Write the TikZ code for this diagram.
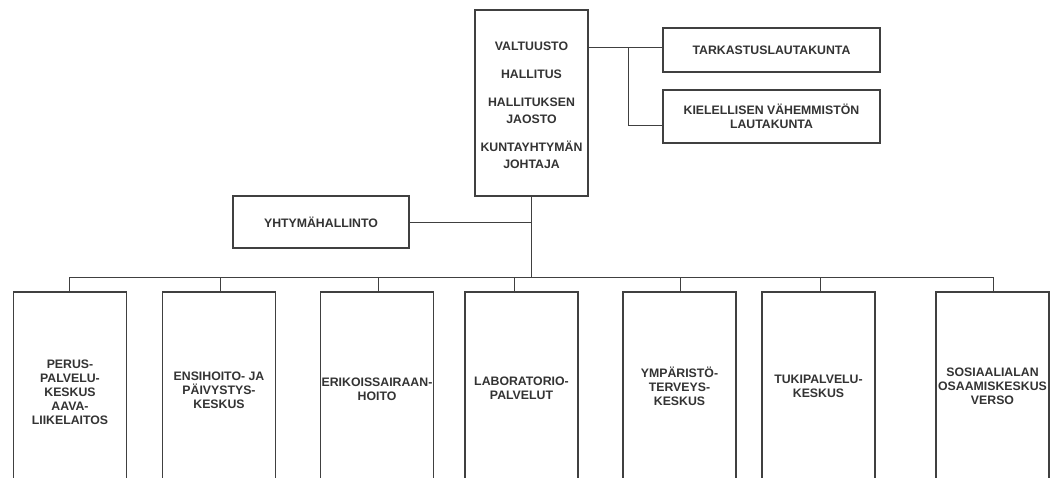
\documentclass[tikz,border=0pt]{standalone}
\usepackage{fontspec}
\setmainfont{Liberation Sans}
\usepackage{xcolor}
\colorlet{colLine}{black!75}
\colorlet{colText}{black!80}
\usetikzlibrary{positioning, calc}
\tikzset{
	orgbox/.style={draw=colLine, line width=1.3pt, inner sep=0pt, align=center,
		text=colText, font=\bfseries\fontsize{12.3}{14}\selectfont},
	unitbox/.style={orgbox, minimum width=113pt, minimum height=192pt},
	conn/.style={draw=colLine, line width=0.9pt},
}

\begin{document}
\begin{tikzpicture}[x=1pt, y=-1pt]
	\useasboundingbox (0,0) rectangle (1050,477);
	\clip (0,0) rectangle (1050,477);

	% top level
	\node[orgbox, minimum width=113pt, minimum height=186pt,
		font=\bfseries\fontsize{12.3}{17}\selectfont] (ylin) at (531.5,103)
		{\raisebox{-3.5pt}[\height][\depth]{\begin{tabular}{@{}c@{}}
			VALTUUSTO\\[11pt]HALLITUS\\[11pt]HALLITUKSEN\\JAOSTO\\[11pt]KUNTAYHTYMÄN\\JOHTAJA
		\end{tabular}}};
	\node[orgbox, minimum width=217pt, minimum height=44pt] (tark) at (771.5,50)
		{TARKASTUSLAUTAKUNTA};
	\node[orgbox, minimum width=217pt, minimum height=53pt] (kieli) at (771.5,116.5)
		{KIELELLISEN VÄHEMMISTÖN\\LAUTAKUNTA};
	\node[orgbox, minimum width=176pt, minimum height=52pt] (yhtyma) at (321,222)
		{YHTYMÄHALLINTO};

	\coordinate (vrow)   at (588,47);
	\coordinate (branch) at (628,47);
	\coordinate (hub)    at (531.5,277);
	\coordinate (busL)   at (69,277);
	\coordinate (busR)   at (993,277);

	\draw[conn] (vrow) -- (tark.west |- vrow);
	\draw[conn] (branch) |- ([yshift=-8.5pt]kieli.west);
	\draw[conn] (ylin.south) -- (hub);
	\draw[conn] (yhtyma.east) -- (yhtyma.east -| ylin.south);
	\draw[conn] (busL) -- (busR);

	% service units, stems hang from the bus
	\foreach \nm/\cx/\cy/\dx/\txt in {%
		perus/70/392/-1/{PERUS-\\PALVELU-\\KESKUS\\AAVA-\\LIIKELAITOS},
		ensi/219/390/1/{ENSIHOITO- JA\\PÄIVYSTYS-\\KESKUS},
		erik/377/389/1/{ERIKOISSAIRAAN-\\HOITO},
		labra/521.5/388/-7.5/{LABORATORIO-\\PALVELUT},
		ymp/679.5/386/0.5/{YMPÄRISTÖ-\\TERVEYS-\\KESKUS},
		tuki/818.5/386/1.5/{TUKIPALVELU-\\KESKUS},
		verso/992.5/386/0.5/{SOSIAALIALAN\\OSAAMISKESKUS\\VERSO}}
	{
		\node[unitbox, minimum height={2*(\cy-292)}] (\nm) at (\cx,\cy) {\txt};
		\draw[conn] ([xshift=\dx pt]\nm.north) -- ([xshift=\dx pt]\nm.north |- busL);
	}
\end{tikzpicture}
\end{document}
